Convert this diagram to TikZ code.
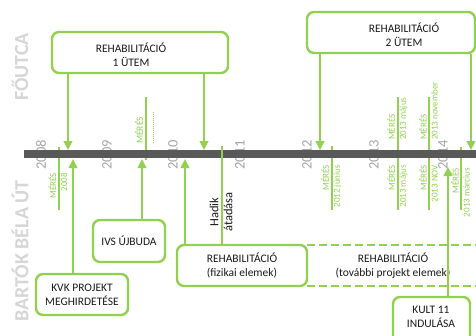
\documentclass[tikz,border=0pt]{standalone}
\usepackage{fontspec}
\setmainfont{Carlito}
\usetikzlibrary{arrows.meta}
\definecolor{grn}{HTML}{92D050}
\definecolor{bargray}{HTML}{595959}
\definecolor{yeargray}{HTML}{A6A6A6}
\definecolor{labgray}{HTML}{D6D6D6}
\definecolor{txt}{HTML}{1A1A1A}
\begin{document}
\begin{tikzpicture}[x=1pt,y=-1pt,
  box/.style={draw=grn, line width=2.4pt, rounded corners=7pt, fill=white, inner sep=0pt},
  boxtext/.style={align=center, inner sep=0pt, text=txt, font=\fontsize{11.5}{14}\selectfont},
  arr/.style={draw=grn, line width=2.2pt, -{Triangle[length=9pt,width=8.5pt]}},
  mline/.style={draw=grn, line width=2pt},
  mtext/.style={rotate=90, text=grn, inner sep=0pt, font=\fontsize{9}{11}\selectfont},
  year/.style={rotate=90, text=yeargray, inner sep=0pt, font=\fontsize{14.5}{15}\selectfont},
  side/.style={rotate=90, text=labgray, inner sep=0pt, font=\bfseries\fontsize{20}{22}\selectfont},
  dashline/.style={draw=grn, line width=2.4pt, dash pattern=on 8pt off 4pt}]
\useasboundingbox (0,0) rectangle (476,335);
\clip (0,0) rectangle (476,335);
\fill[white] (0,0) rectangle (476,335);

% side labels
\node[side] (fo) at (20,67) {FŐUTCA};
\node[side] (bbu) at (20,251) {BARTÓK BÉLA ÚT};

% years (under the bar)
\node[year] (y08) at (41,155) {2008};
\node[year] (y09) at (107,155) {2009};
\node[year] (y10) at (173,155) {2010};
\node[year] (y11) at (240,155) {2011};
\node[year] (y12) at (307,155) {2012};
\node[year] (y13) at (374,155) {2013};
\node[year] (y14) at (443,155) {2014};

% measurement lines (under the bar)
\draw[mline] (59,147) -- (59,210);
\draw[mline] (146,97) -- (146,160);
\draw[draw=grn, line width=0.9pt, dash pattern=on 0.9pt off 1.1pt] (153,112) -- (153,143);
\draw[mline] (332,146) -- (332,210);
\draw[mline] (398,97) -- (398,210);
\draw[mline] (429,97) -- (429,210);
\draw[mline] (461,147) -- (461,210);

% bar
\fill[bargray] (24,150) rectangle (478,157.5);

% measurement labels
\node[mtext, align=right, anchor=east] (m08) at (58,173) {MÉRÉS\\2008};
\node[mtext, anchor=west, font=\fontsize{9.5}{11}\selectfont] (m09) at (139,144) {MÉRÉS};
\node[mtext, align=right, anchor=east] (m12) at (331.5,165) {MÉRÉS\\2012 június};
\node[mtext, align=left, anchor=west] (m13a) at (397.5,140) {MÉRÉS\\2013 május};
\node[mtext, align=right, anchor=east] (m13b) at (397.5,165) {MÉRÉS\\2013 május};
\node[mtext, align=left, anchor=west] (m13c) at (428.5,140) {MÉRÉS\\2013 november};
\node[mtext, align=right, anchor=east] (m13d) at (428.5,165) {MÉRÉS\\2013 NOV};
\node[mtext, align=right, anchor=east] (m14) at (460.5,168) {MÉRÉS\\2013 március};

% top boxes
\node[box, minimum width=176pt, minimum height=41pt] (b1) at (140,52.5) {};
\node[boxtext] (b1t) at (131,55) {REHABILITÁCIÓ\\1 ÜTEM};
\node[box, minimum width=168pt, minimum height=41pt] (b2) at (391,32.5) {};
\node[boxtext] (b2t) at (404,34.5) {REHABILITÁCIÓ\\2 ÜTEM};

% bottom boxes
\node[box, boxtext, minimum width=92pt, minimum height=41pt] (kvk) at (82,294.5) {KVK PROJEKT\\MEGHIRDETÉSE};
\node[box, boxtext, minimum width=72pt, minimum height=42pt] (ivs) at (129,241) {IVS ÚJBUDA};
\draw[dashline] (307,245) -- (480,245);
\draw[dashline] (307,286) -- (480,286);
\node[box, boxtext, minimum width=130pt, minimum height=41pt] (fiz) at (242,265.5) {REHABILITÁCIÓ\\(fizikai elemek)};
\node[boxtext] (tov) at (393,266) {REHABILITÁCIÓ\\(további projekt elemek)};
\node[box, boxtext, minimum width=77pt, minimum height=48pt] (kult) at (431.5,321) {};
\node[boxtext] (kultt) at (431,317) {KULT 11\\INDULÁSA};

% Hadik
\coordinate (hd) at (222,146);
\draw[mline] (hd) -- (fiz.north -| hd);
\node[rotate=90, align=center, inner sep=0pt, text=txt, font=\fontsize{12.5}{14}\selectfont] (hadik) at (221,212) {Hadik\\átadása};

% arrow end points on the bar
\coordinate (t1) at (68,150);
\coordinate (t2) at (204,150);
\coordinate (t3) at (320,150);
\coordinate (t4) at (471,150);
\coordinate (u1) at (73,159);
\coordinate (u2) at (142,159);
\coordinate (u3) at (185,159);
\coordinate (u4) at (448,167);

\draw[arr] (b1.south -| t1) -- (t1);
\draw[arr] (b1.south -| t2) -- (t2);
\draw[arr] (b2.south -| t3) -- (t3);
\draw[arr] (b2.south -| t4) -- (t4);
\draw[arr] (kvk.north -| u1) -- (u1);
\draw[arr] (ivs.north -| u2) -- (u2);
\draw[arr] (fiz.north -| u3) -- (u3);
\draw[arr] (kult.north -| u4) -- (u4);
\end{tikzpicture}
\end{document}
